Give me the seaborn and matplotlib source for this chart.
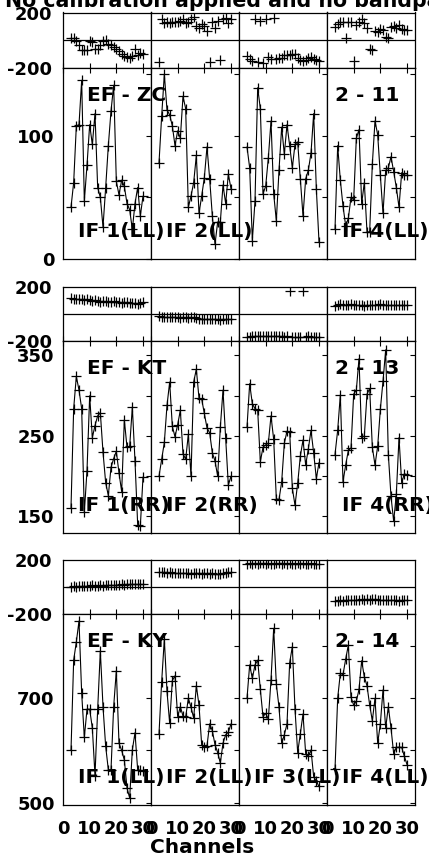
import matplotlib
matplotlib.use("Agg")
import matplotlib.pyplot as plt
from matplotlib.ticker import FixedLocator, NullFormatter
import seaborn as sns
import pandas as pd

# channels shown in every spectrum
channels = list(range(3, 31))

baselines = ["EF - ZC", "EF - KT", "EF - KY"]
baseline_ids = ["2 - 11", "2 - 13", "2 - 14"]
if_labels_zc = ["IF 1(LL)", "IF 2(LL)", "", "IF 4(LL)"]
if_labels_kt = ["IF 1(RR)", "IF 2(RR)", "", "IF 4(RR)"]
if_labels_ky = ["IF 1(LL)", "IF 2(LL)", "IF 3(LL)", "IF 4(LL)"]
title = "No calibration applied and no bandpass"
x_ticks = [0, 10, 20, 30]

# amplitude per IF
amp_zc_if1 = [42, 62, 108, 109, 145, 47, 76, 109, 93, 118, 58, 50, 26, 58, 92, 120, 141, 63, 52, 64, 59, 45, 40, 24, 45, 58, 35, 51]
amp_zc_if2 = [78, 116, 150, 121, 117, 108, 92, 104, 98, 132, 122, 42, 51, 62, 84, 37, 51, 66, 91, 65, 35, 12, 30, 30, 60, 45, 69, 57]
amp_zc_if3 = [91, 74, 15, 47, 139, 122, 53, 59, 82, 112, 53, 31, 72, 107, 85, 109, 92, 74, 93, 95, 65, 35, 65, 72, 86, 118, 57, 14]
amp_zc_if4 = [24, 92, 64, 43, 27, 33, 50, 48, 98, 105, 45, 62, 22, 22, 77, 112, 101, 68, 37, 72, 74, 83, 71, 58, 42, 70, 68, 68]

amp_kt_if1 = [161, 284, 324, 307, 284, 155, 207, 300, 248, 263, 275, 279, 230, 192, 176, 211, 222, 231, 204, 181, 270, 236, 237, 286, 219, 140, 138, 199]
amp_kt_if2 = [200, 221, 242, 288, 317, 262, 249, 264, 282, 228, 221, 252, 200, 317, 333, 297, 296, 278, 260, 254, 229, 219, 200, 261, 307, 247, 189, 200]
amp_kt_if3 = [261, 315, 290, 284, 282, 218, 236, 239, 241, 275, 246, 172, 171, 193, 241, 256, 255, 185, 164, 191, 225, 245, 214, 234, 257, 229, 197, 217]
amp_kt_if4 = [227, 257, 301, 193, 214, 232, 235, 302, 307, 346, 248, 250, 302, 309, 236, 214, 237, 283, 318, 357, 227, 175, 144, 178, 248, 192, 203, 202]

amp_ky_if1 = [600, 773, 808, 848, 710, 625, 679, 679, 643, 552, 679, 791, 684, 608, 563, 563, 684, 753, 614, 600, 582, 528, 509, 601, 634, 563, 562, 560]
amp_ky_if2 = [632, 732, 813, 713, 652, 734, 743, 665, 684, 666, 664, 700, 683, 662, 724, 687, 611, 606, 609, 651, 638, 611, 596, 576, 614, 630, 635, 651]
amp_ky_if3 = [700, 764, 738, 764, 773, 717, 665, 671, 660, 735, 834, 727, 683, 614, 630, 651, 768, 799, 679, 596, 632, 670, 594, 589, 601, 550, 541, 531]
amp_ky_if4 = [564, 700, 748, 745, 775, 802, 702, 687, 694, 717, 772, 741, 724, 687, 657, 700, 614, 651, 716, 643, 684, 643, 594, 606, 606, 606, 589, 573]

# phase per IF (degrees)
ph_zc_if1 = [19, 19, -7, -36, -73, -73, -73, -5, -12, -65, -65, -36, -7, 0, -24, -36, -48, -61, -80, -97, -114, -121, -128, -114, -61, -104, -90, -97]
ph_zc_if2 = [-158, 153, 121, 128, 121, 128, 130, 135, 140, 150, 125, 128, 155, 170, 100, 90, 114, 100, 65, -158, 128, 90, 138, -145, 150, 160, 125, 155]
ph_zc_if3 = [-114, -133, -153, 153, -158, 140, -162, 150, -121, -133, 162, -133, -128, -128, -104, -109, -104, -97, -97, -128, -145, -153, -145, -128, -121, -133, -145, -153]
ph_zc_if4 = [97, 115, 133, 128, 17, 133, 128, -153, 109, 133, 153, 121, 85, -65, -73, 65, 61, 80, 73, 24, 17, 97, 104, 90, 109, 80, 75, 73]

ph_kt_if1 = [117, 112, 114, 109, 112, 104, 109, 104, 99, 102, 97, 92, 99, 94, 89, 92, 97, 87, 92, 84, 89, 87, 80, 82, 84, 72, 80, 87]
ph_kt_if2 = [-15, -22, -20, -25, -22, -25, -22, -25, -27, -25, -20, -27, -25, -22, -30, -35, -37, -40, -37, -35, -40, -37, -40, -42, -40, -37, -40, -35]
ph_kt_if3 = [-170, -168, -165, -165, -162, -163, -160, -165, -162, -160, -163, -165, -160, -163, -167, -162, 174, -170, -172, -168, -170, 174, -170, -165, -168, -170, -168, -170]
ph_kt_if4 = [60, 68, 72, 70, 65, 68, 72, 68, 65, 70, 68, 62, 68, 70, 65, 68, 70, 72, 68, 65, 70, 68, 66, 68, 70, 68, 66, 68]

ph_ky_if1 = [2, 5, 3, 8, 5, 10, 7, 8, 12, 10, 8, 12, 10, 14, 12, 15, 17, 15, 18, 20, 17, 20, 22, 20, 23, 25, 22, 25]
ph_ky_if2 = [112, 110, 108, 106, 108, 104, 106, 104, 102, 104, 102, 104, 100, 102, 104, 102, 100, 102, 104, 100, 102, 100, 98, 100, 104, 106, 110, 108]
ph_ky_if3 = [172, 175, 173, 176, 174, 177, 175, 173, 176, 174, 172, 175, 177, 174, 176, 173, 175, 174, 172, 175, 173, 176, 174, 172, 175, 173, 174, 172]
ph_ky_if4 = [-106, -100, -98, -102, -97, -99, -95, -97, -94, -96, -92, -95, -90, -93, -89, -92, -95, -93, -97, -95, -98, -96, -99, -97, -100, -98, -96, -99]

amp_rows = [
    [amp_zc_if1, amp_zc_if2, amp_zc_if3, amp_zc_if4],
    [amp_kt_if1, amp_kt_if2, amp_kt_if3, amp_kt_if4],
    [amp_ky_if1, amp_ky_if2, amp_ky_if3, amp_ky_if4],
]
ph_rows = [
    [ph_zc_if1, ph_zc_if2, ph_zc_if3, ph_zc_if4],
    [ph_kt_if1, ph_kt_if2, ph_kt_if3, ph_kt_if4],
    [ph_ky_if1, ph_ky_if2, ph_ky_if3, ph_ky_if4],
]
if_rows = [if_labels_zc, if_labels_kt, if_labels_ky]

# layout in pixels
W, H = 429, 860
col_left = [63, 151, 239, 327]
col_w = 88
ph_box = [(12.5, 68), (287, 341), (560, 614)]
amp_box = [(68, 259), (341, 533), (614, 805)]
amp_lim = [(0, 155), (129.5, 368), (495.5, 861.5)]
amp_major = [[0, 100], [150, 250, 350], [500, 700]]
amp_minor = [[50, 150], [200, 300], [600, 800]]

sns.set_style("white")
plt.rcParams["font.family"] = ["DejaVu Sans"]
plt.rcParams["font.weight"] = "bold"
plt.rcParams["text.color"] = "black"
plt.rcParams["xtick.color"] = "black"
plt.rcParams["ytick.color"] = "black"
plt.rcParams["axes.labelcolor"] = "black"

fig = plt.figure(figsize=(W / 100, H / 100), dpi=100)


def px_axes(x0, y0, x1, y1):
    return fig.add_axes([x0 / W, 1 - y1 / H, (x1 - x0) / W, (y1 - y0) / H])


def frame(ax):
    for s in ax.spines.values():
        s.set_color("black")
        s.set_linewidth(0.9)


for r in range(3):
    for c in range(4):
        x0 = col_left[c]
        x1 = x0 + col_w

        # phase panel
        axp = px_axes(x0, ph_box[r][0], x1, ph_box[r][1])
        dfp = pd.DataFrame({"channel": channels, "phase": ph_rows[r][c]})
        sns.scatterplot(data=dfp, x="channel", y="phase", ax=axp, marker="+",
                        color="black", s=50, linewidth=0.9)
        axp.axhline(0, color="black", lw=0.9)
        axp.set_xlim(0, 33)
        axp.set_ylim(-200, 200)
        axp.set_xticks(x_ticks)
        axp.set_xticklabels([])
        axp.set_yticks([-200, 200])
        if c == 0:
            axp.set_yticklabels(["-200", "200"])
        else:
            axp.set_yticklabels([])
        axp.tick_params(axis="x", direction="in", length=3.5, width=0.8, bottom=True, top=False)
        axp.tick_params(axis="y", length=0, pad=8, labelsize=13, labelcolor="black")
        axp.set_xlabel("")
        axp.set_ylabel("")
        frame(axp)

        # amplitude panel
        axa = px_axes(x0, amp_box[r][0], x1, amp_box[r][1])
        dfa = pd.DataFrame({"channel": channels, "amp": amp_rows[r][c]})
        sns.lineplot(data=dfa, x="channel", y="amp", ax=axa, color="black", linewidth=0.8,
                     marker="+", markersize=7.5, markeredgewidth=0.9, markeredgecolor="black")
        axa.set_xlim(0, 33)
        axa.set_ylim(*amp_lim[r])
        axa.set_xticks(x_ticks)
        axa.yaxis.set_major_locator(FixedLocator(amp_major[r]))
        axa.yaxis.set_minor_locator(FixedLocator(amp_minor[r]))
        axa.yaxis.set_minor_formatter(NullFormatter())
        axa.tick_params(axis="both", which="both", direction="in", length=3.5, width=0.8,
                        top=True, right=True, labelsize=13, labelcolor="black")
        axa.tick_params(axis="y", pad=6)
        axa.tick_params(axis="x", pad=11)
        if c != 0:
            axa.set_yticklabels([])
        if r != 2:
            axa.set_xticklabels([])
        axa.set_xlabel("")
        axa.set_ylabel("")
        frame(axa)

        # IF label near the bottom of each spectrum
        if if_rows[r][c]:
            fig.text((x0 + 15) / W, 1 - (amp_box[r][1] - 22) / H, if_rows[r][c],
                     fontsize=14.5, fontweight="bold", color="black", ha="left", va="baseline")

    top = amp_box[r][0]
    fig.text(87 / W, 1 - (top + 33) / H, baselines[r], fontsize=14.5,
             fontweight="bold", color="black", ha="left", va="baseline")
    fig.text(335 / W, 1 - (top + 33) / H, baseline_ids[r], fontsize=14.5,
             fontweight="bold", color="black", ha="left", va="baseline")

fig.text(5 / W, 1 - 7 / H, title, fontsize=14.8, fontweight="bold", color="black",
         ha="left", va="baseline")
fig.text(150 / W, 1 - 853 / H, "Channels", fontsize=14.5, fontweight="bold",
         color="black", ha="left", va="baseline")

fig.savefig("out.png", dpi=100)
